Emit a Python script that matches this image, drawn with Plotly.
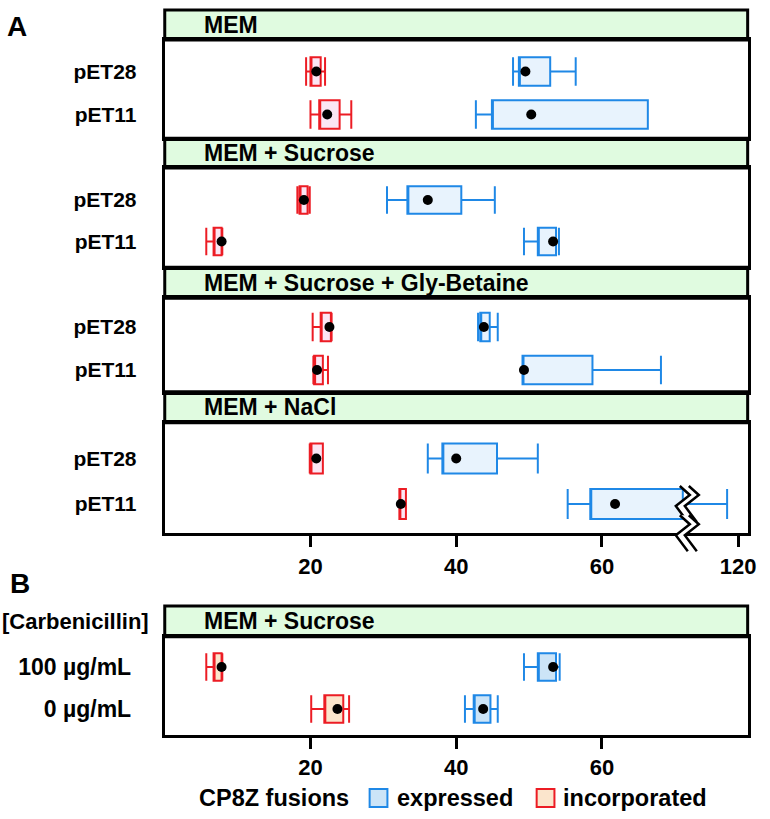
import plotly.graph_objects as go

# ---------------- data ----------------
conditions = ["MEM", "MEM + Sucrose", "MEM + Sucrose + Gly-Betaine", "MEM + NaCl"]
plasmids = ["pET28", "pET11"]
doses = ["100 µg/mL", "0 µg/mL"]
condition_b = "MEM + Sucrose"

# expressed (blue): per condition, [pET28, pET11]
exp_low = [[47.8, 42.7], [30.5, 49.3], [43.0, 49.1], [36.1, 55.3]]
exp_q1 = [[48.6, 44.9], [33.3, 51.2], [43.3, 49.1], [38.1, 58.4]]
exp_q3 = [[52.9, 66.3], [40.7, 53.7], [44.6, 58.7], [45.6, 100.0]]
exp_up = [[56.4, 66.3], [45.3, 54.1], [45.7, 68.1], [51.2, 116.0]]
exp_dot = [[49.5, 50.3], [36.1, 53.3], [43.8, 49.3], [40.0, 61.8]]

# incorporated (red)
inc_low = [[19.4, 20.0], [18.2, 5.7], [20.3, 20.4], [19.9, 32.2]]
inc_q1 = [[20.0, 21.2], [18.5, 6.7], [21.4, 20.5], [20.0, 32.2]]
inc_q3 = [[21.4, 24.0], [19.6, 7.8], [22.8, 21.7], [21.7, 33.1]]
inc_up = [[22.0, 25.6], [19.9, 7.9], [22.9, 22.4], [21.7, 33.1]]
inc_dot = [[20.8, 22.3], [19.1, 7.8], [22.6, 20.9], [20.8, 32.4]]

# panel B: [100 µg/mL, 0 µg/mL]
b_exp_low = [49.3, 41.2]
b_exp_q1 = [51.2, 42.4]
b_exp_q3 = [53.7, 44.7]
b_exp_up = [54.2, 45.7]
b_exp_dot = [53.3, 43.7]
b_inc_low = [5.7, 20.1]
b_inc_q1 = [6.7, 21.9]
b_inc_q3 = [7.8, 24.5]
b_inc_up = [7.9, 25.3]
b_inc_dot = [7.8, 23.7]

tick_vals_a = [20, 40, 60, 120]
tick_vals_b = [20, 40, 60]

# broken axis: values above BREAK_REAL are compressed after display position BREAK_DISP
BREAK_DISP = 71.1
BREAK_REAL = 100.0
COMPRESS = 0.38


def disp(v):
    return v if v <= BREAK_DISP else BREAK_DISP + (v - BREAK_REAL) * COMPRESS


def dl(lst):
    return [disp(v) for v in lst]


# ---------------- style / layout ----------------
W, H = 770, 819
FONT = "Liberation Sans, Arial, sans-serif"
BLUE = "#1f88e6"
RED = "#ec1c24"
BLUE_FILL_A = "#e8f3fd"
RED_FILL_A = "#fbe6f4"
BLUE_FILL_B = "#cce4f7"
RED_FILL_B = "#fbe5cc"
STRIP = "#e0fbe0"
XL, XR = 166.7, 756.5
BOXW = 0.66


def fx(x):
    return x / W


def fy(y):
    return 1 - y / H


# panel pixel geometry (page pixels): strip top, frame top, frame bottom, row 1, row 0
panels = [
    dict(s=10, t=40, b=138.3, r1=71.5, r0=114.5),
    dict(s=138.3, t=168, b=267.3, r1=200, r0=241.5),
    dict(s=267.3, t=298.3, b=391.7, r1=327, r0=370),
    dict(s=391.7, t=422.7, b=533.3, r1=458.5, r0=504),
    dict(s=606, t=636.7, b=735, r1=667, r0=709),
]

fig = go.Figure()
layout = dict(
    width=W, height=H, margin=dict(l=0, r=0, t=0, b=0),
    paper_bgcolor="white", plot_bgcolor="white",
    showlegend=False, boxmode="overlay",
    font=dict(family=FONT, size=22, color="black", weight="bold"),
)
shapes = []
annotations = []


def add_box(k, low, q1, q3, up, color, fill):
    fig.add_trace(go.Box(
        y=[1, 0], q1=q1, median=q1, q3=q3, lowerfence=low, upperfence=up,
        orientation="h", width=BOXW, whiskerwidth=1,
        line=dict(color=color, width=2), fillcolor=fill,
        xaxis=f"x{k}", yaxis=f"y{k}", boxpoints=False, hoverinfo="skip",
    ))


def add_dots(k, xs):
    fig.add_trace(go.Scatter(
        x=xs, y=[1, 0, 1, 0], mode="markers",
        marker=dict(color="black", size=10),
        xaxis=f"x{k}", yaxis=f"y{k}", hoverinfo="skip",
    ))


for i, p in enumerate(panels):
    k = i + 1
    unit = p["r0"] - p["r1"]
    top_v = 1 + (p["r1"] - p["t"]) / unit
    bot_v = -(p["b"] - p["r0"]) / unit
    if i < 4:
        c = i
        add_box(k, inc_low[c], inc_q1[c], inc_q3[c], inc_up[c], RED, RED_FILL_A)
        add_box(k, dl(exp_low[c]), dl(exp_q1[c]), dl(exp_q3[c]), dl(exp_up[c]), BLUE, BLUE_FILL_A)
        add_dots(k, inc_dot[c] + dl(exp_dot[c]))
        title = conditions[c]
        ylabels = plasmids
    else:
        add_box(k, b_inc_low, b_inc_q1, b_inc_q3, b_inc_up, RED, RED_FILL_B)
        add_box(k, b_exp_low, b_exp_q1, b_exp_q3, b_exp_up, BLUE, BLUE_FILL_B)
        add_dots(k, b_inc_dot + b_exp_dot)
        title = condition_b
        ylabels = doses

    show_ticks = i >= 3
    xa = dict(
        domain=[fx(XL), fx(XR)], range=[0, 80], anchor=f"y{k}",
        showline=True, mirror=True, linewidth=3, linecolor="black",
        showgrid=False, zeroline=False,
        ticks="outside" if show_ticks else "", ticklen=11, tickwidth=3, tickcolor="black",
        showticklabels=show_ticks,
        tickfont=dict(family=FONT, size=22, color="black", weight="bold"),
    )
    if i == 3:
        xa["tickvals"] = [disp(v) for v in tick_vals_a]
        xa["ticktext"] = [str(v) for v in tick_vals_a]
    elif i == 4:
        xa["tickvals"] = tick_vals_b
        xa["ticktext"] = [str(v) for v in tick_vals_b]
    ya = dict(
        domain=[fy(p["b"]), fy(p["t"])], range=[bot_v, top_v], anchor=f"x{k}",
        showline=True, mirror=True, linewidth=3, linecolor="black",
        showgrid=False, zeroline=False,
        tickvals=[1, 0], ticktext=ylabels,
        ticks="outside", ticklen=21 if i < 4 else 26, tickcolor="rgba(0,0,0,0)",
        tickfont=dict(family=FONT, size=21 if i < 4 else 23, color="black", weight="bold"),
    )
    layout[f"xaxis{k}"] = xa
    layout[f"yaxis{k}"] = ya

    # strip
    shapes.append(dict(type="rect", xref="paper", yref="paper",
                       x0=fx(XL), x1=fx(XR), y0=fy(p["t"]), y1=fy(p["s"]),
                       fillcolor=STRIP, line=dict(color="black", width=3), layer="below"))
    annotations.append(dict(text=title, xref="paper", yref="paper",
                            x=fx(204), y=fy((p["s"] + p["t"]) / 2),
                            xanchor="left", yanchor="middle", showarrow=False,
                            font=dict(family=FONT, size=23, color="black", weight="bold")))

# broken-axis zigzags
zz1 = [(-3, 18), (7, 9), (-7, -2), (5, -18)]
zz2 = [(x + 9, y) for x, y in zz1]


def path_of(pts, close=False):
    s = "M " + " L ".join(f"{x},{y}" for x, y in pts)
    return s + (" Z" if close else "")


for yref, yanchor in [("y4", 0), ("paper", fy(panels[3]["b"]))]:
    xr = "x4"
    shapes.append(dict(type="path", xref=xr, yref=yref, xsizemode="pixel", ysizemode="pixel",
                       xanchor=BREAK_DISP, yanchor=yanchor,
                       path=path_of(zz1 + zz2[::-1], True), fillcolor="white",
                       line=dict(width=0), layer="above"))
    for z in (zz1, zz2):
        shapes.append(dict(type="path", xref=xr, yref=yref, xsizemode="pixel", ysizemode="pixel",
                           xanchor=BREAK_DISP, yanchor=yanchor,
                           path=path_of(z), line=dict(color="black", width=2.5), layer="above"))

# panel letters and extra labels
annotations.append(dict(text="A", xref="paper", yref="paper", x=fx(5), y=fy(26),
                        xanchor="left", yanchor="middle", showarrow=False,
                        font=dict(family=FONT, size=28, color="black", weight="bold")))
annotations.append(dict(text="B", xref="paper", yref="paper", x=fx(8), y=fy(583),
                        xanchor="left", yanchor="middle", showarrow=False,
                        font=dict(family=FONT, size=28, color="black", weight="bold")))
annotations.append(dict(text="[Carbenicillin]", xref="paper", yref="paper", x=fx(153), y=fy(621),
                        xanchor="right", yanchor="middle", showarrow=False,
                        font=dict(family=FONT, size=22, color="black", weight="bold")))

# legend
LEG_Y = 798
LEG_FS = 23.5
annotations.append(dict(text="CP8Z fusions", xref="paper", yref="paper", x=fx(199), y=fy(LEG_Y),
                        xanchor="left", yanchor="middle", showarrow=False,
                        font=dict(family=FONT, size=LEG_FS, color="black", weight="bold")))
for x0, col, fill, label, tx in [(374, BLUE, BLUE_FILL_B, "expressed", 400),
                                  (543, RED, RED_FILL_B, "incorporated", 568)]:
    shapes.append(dict(type="rect", xref="paper", yref="paper",
                       x0=fx(x0), x1=fx(x0 + 18), y0=fy(LEG_Y + 9), y1=fy(LEG_Y - 9),
                       fillcolor=fill, line=dict(color=col, width=2)))
    annotations.append(dict(text=label, xref="paper", yref="paper", x=fx(tx), y=fy(LEG_Y),
                            xanchor="left", yanchor="middle", showarrow=False,
                            font=dict(family=FONT, size=LEG_FS, color="black", weight="bold")))

layout["shapes"] = shapes
layout["annotations"] = annotations
fig.update_layout(**layout)
fig.write_html("out.html", config={"displayModeBar": False, "staticPlot": True},
               post_script="document.body.style.margin='0px';document.body.style.padding='0px';")
